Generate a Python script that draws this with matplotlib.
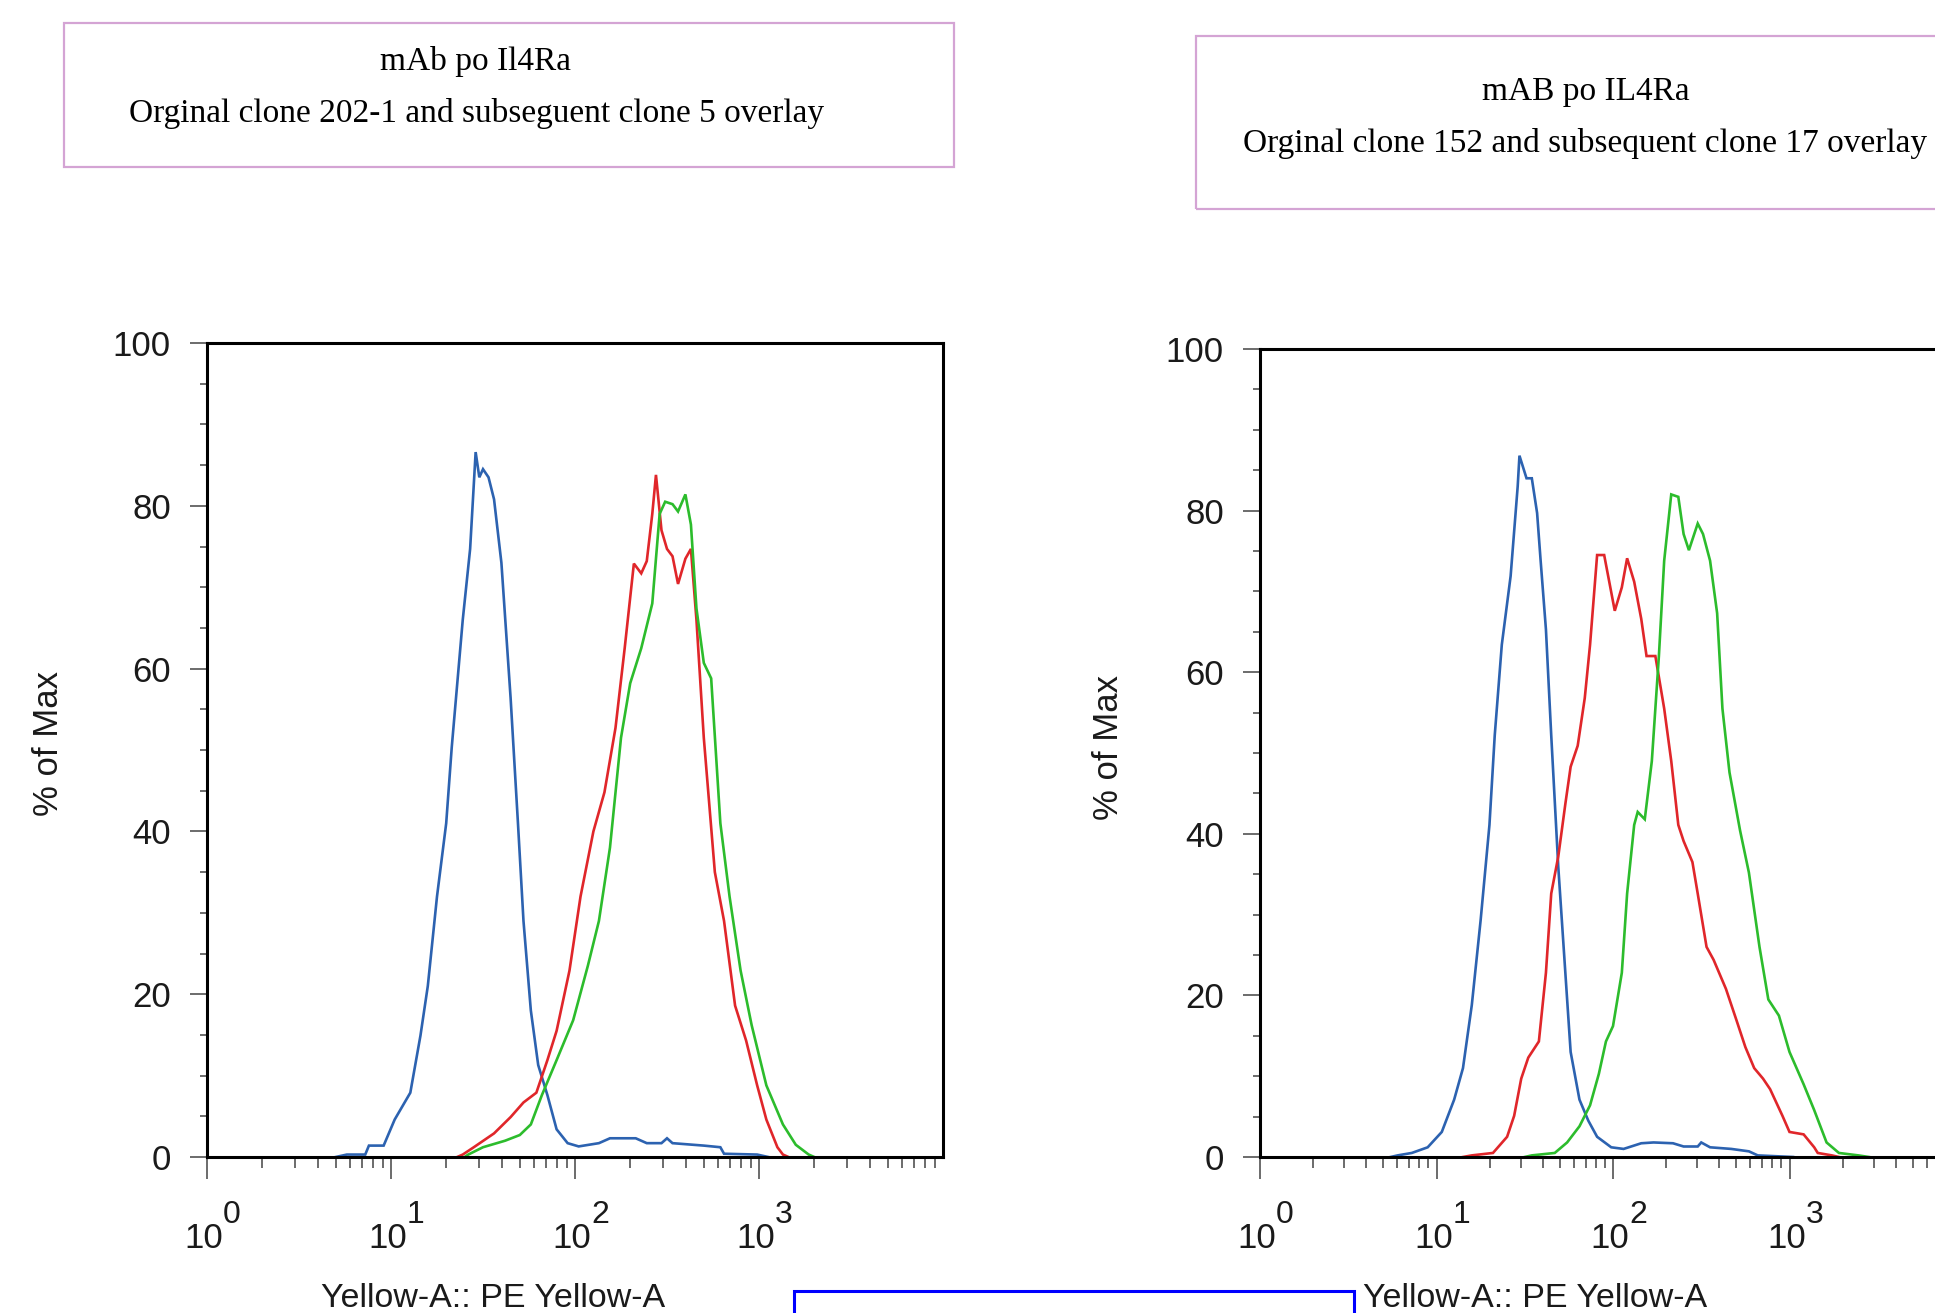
import numpy as np
import matplotlib
matplotlib.use("Agg")
import matplotlib.pyplot as plt
import matplotlib.transforms as mtransforms
from matplotlib.patches import Rectangle
from matplotlib.ticker import MultipleLocator, LogLocator, FixedLocator, NullFormatter

plt.rcParams["font.family"] = ["Liberation Sans", "DejaVu Sans"]

# --- data (x as log10 of intensity, y as % of max) ---
# left panel: original clone 202-1 vs subsequent clone 5
left_blue_log = [0.70, 0.76, 0.86, 0.88, 0.96, 1.02, 1.105, 1.16, 1.20, 1.25, 1.30, 1.33, 1.39, 1.43,
                 1.46, 1.48, 1.50, 1.53, 1.56, 1.60, 1.65, 1.69, 1.72, 1.76, 1.80, 1.85, 1.90, 1.96,
                 2.02, 2.13, 2.19, 2.33, 2.39, 2.47, 2.50, 2.53, 2.70, 2.79, 2.81, 2.99, 3.05]
left_blue_pct = [0, 0.3, 0.3, 1.4, 1.4, 4.6, 7.9, 14.9, 21, 32, 41, 50.3, 66, 74.7,
                 86.6, 83.5, 84.5, 83.5, 80.8, 73, 56.4, 41, 29, 18, 11.3, 7.6, 3.4, 1.7,
                 1.3, 1.7, 2.3, 2.3, 1.7, 1.7, 2.3, 1.7, 1.4, 1.2, 0.4, 0.3, 0]

left_red_log = [1.36, 1.39, 1.45, 1.56, 1.65, 1.72, 1.79, 1.85, 1.90, 1.97, 2.03, 2.10, 2.16, 2.22,
                2.27, 2.32, 2.36, 2.39, 2.42, 2.44, 2.47, 2.50, 2.53, 2.56, 2.60, 2.63, 2.66, 2.70,
                2.76, 2.81, 2.87, 2.93, 2.99, 3.04, 3.10, 3.13, 3.16]
left_red_pct = [0, 0.3, 1.2, 2.9, 4.9, 6.7, 7.9, 11.9, 15.5, 22.9, 32, 40, 44.8, 52.7,
                62.5, 72.9, 71.7, 73.2, 79, 83.8, 77, 74.7, 73.8, 70.4, 73.5, 74.7, 66, 51.5,
                35, 29, 18.6, 14.3, 8.8, 4.6, 1.2, 0.3, 0]

left_green_log = [1.40, 1.42, 1.50, 1.62, 1.70, 1.76, 1.82, 1.90, 1.99, 2.07, 2.13, 2.19, 2.25, 2.30,
                  2.36, 2.42, 2.46, 2.49, 2.53, 2.56, 2.60, 2.63, 2.66, 2.70, 2.74, 2.79, 2.84, 2.90,
                  2.96, 3.04, 3.13, 3.20, 3.27, 3.30]
left_green_pct = [0, 0.3, 1.2, 2.0, 2.7, 4.0, 7.6, 11.9, 16.8, 23.5, 29, 38, 51.5, 58.2,
                  62.5, 68, 79, 80.5, 80.2, 79.3, 81.4, 77.7, 67.4, 60.7, 58.8, 41, 32, 22.9,
                  16.2, 8.8, 4.0, 1.5, 0.3, 0]

# right panel: original clone 152 vs subsequent clone 17
right_blue_log = [0.74, 0.78, 0.86, 0.95, 1.03, 1.10, 1.15, 1.20, 1.25, 1.30, 1.33, 1.37, 1.42, 1.46,
                  1.47, 1.51, 1.54, 1.57, 1.59, 1.62, 1.65, 1.69, 1.73, 1.76, 1.81, 1.86, 1.91, 1.99,
                  2.06, 2.16, 2.23, 2.34, 2.40, 2.48, 2.50, 2.55, 2.67, 2.77, 2.82, 3.02]
right_blue_pct = [0, 0.2, 0.5, 1.2, 3.1, 7.1, 11, 18.8, 29.3, 41.1, 52.2, 63.4, 71.9, 83,
                  86.8, 84, 84, 79.7, 73.8, 65.3, 52.2, 35.9, 22.8, 13, 7.1, 4.5, 2.5, 1.2,
                  1.0, 1.7, 1.8, 1.7, 1.3, 1.3, 1.8, 1.2, 1.0, 0.7, 0.2, 0]

right_red_log = [1.15, 1.20, 1.32, 1.40, 1.44, 1.48, 1.52, 1.58, 1.62, 1.65, 1.69, 1.73, 1.76, 1.80,
                 1.84, 1.87, 1.91, 1.95, 2.01, 2.05, 2.08, 2.12, 2.16, 2.19, 2.24, 2.29, 2.33, 2.37,
                 2.40, 2.45, 2.48, 2.53, 2.57, 2.64, 2.70, 2.75, 2.80, 2.85, 2.89, 2.96, 3.00, 3.08,
                 3.14, 3.16, 3.24, 3.28]
right_red_pct = [0, 0.2, 0.5, 2.5, 5.1, 9.7, 12.3, 14.3, 22.8, 32.6, 37.2, 43.7, 48.3, 50.9,
                 56.8, 63.4, 74.5, 74.5, 67.6, 70.5, 74.1, 71.2, 66.6, 62, 62, 55.5, 49, 41.1,
                 39.1, 36.5, 32.6, 26, 24.4, 20.8, 16.9, 13.6, 11, 9.7, 8.4, 5.1, 3.1, 2.8,
                 1.2, 0.5, 0.2, 0]

right_green_log = [1.50, 1.54, 1.67, 1.74, 1.81, 1.87, 1.92, 1.96, 2.00, 2.05, 2.08, 2.12, 2.14, 2.18,
                   2.22, 2.26, 2.29, 2.33, 2.37, 2.40, 2.43, 2.48, 2.51, 2.55, 2.59, 2.62, 2.66, 2.72,
                   2.77, 2.83, 2.88, 2.94, 3.00, 3.08, 3.14, 3.21, 3.28, 3.39, 3.45]
right_green_pct = [0, 0.2, 0.5, 1.8, 3.8, 6.4, 10.3, 14.3, 16.2, 22.8, 32.6, 41.1, 42.7, 41.8,
                   49, 62, 73.8, 82, 81.7, 77.1, 75.1, 78.4, 77.1, 73.8, 67.3, 55.5, 47.6, 40.4,
                   35.2, 26, 19.5, 17.5, 13, 9, 5.8, 1.8, 0.5, 0.2, 0]

xtick_vals = [1, 10, 100, 1000]
xtick_exps = ["0", "1", "2", "3"]
titles_left = ["mAb po Il4Ra", "Orginal clone 202-1 and subseguent clone 5 overlay"]
titles_right = ["mAB po IL4Ra", "Orginal clone 152 and subsequent clone 17 overlay"]
xlabel = "Yellow-A:: PE Yellow-A"
ylabel = "% of Max"

BLUE, RED, GREEN = "#2c62b0", "#e0262a", "#2cbc2c"

W, H = 1935, 1313
fig = plt.figure(figsize=(W / 100, H / 100), dpi=100)


def fx(px):
    return px / W


def fy(py):
    return 1 - py / H


def panel(x0, x1, y0, y1, curves):
    ax = fig.add_axes([fx(x0), fy(y1), fx(x1 - x0), (y1 - y0) / H])
    for logs, vals, col in curves:
        ax.plot(10 ** np.array(logs), vals, color=col, lw=1.9, solid_joinstyle="miter")
    ax.set_xscale("log")
    ax.set_xlim(1, 1e4)
    ax.set_ylim(0, 100)
    ax.xaxis.set_major_locator(FixedLocator(xtick_vals))
    ax.xaxis.set_minor_locator(LogLocator(base=10, subs=np.arange(2, 10)))
    ax.xaxis.set_major_formatter(NullFormatter())
    ax.xaxis.set_minor_formatter(NullFormatter())
    ax.yaxis.set_major_locator(MultipleLocator(20))
    ax.yaxis.set_minor_locator(MultipleLocator(5))
    for s in ax.spines.values():
        s.set_linewidth(2.2)
    ax.tick_params(axis="x", which="major", length=16, width=1.1, color="#444", direction="out")
    ax.tick_params(axis="x", which="minor", length=8, width=1.1, color="#444", direction="out")
    ax.tick_params(axis="y", which="major", length=12, width=1.1, color="#444", direction="out",
                   pad=14, labelsize=25, labelcolor="#1a1a1a")
    ax.tick_params(axis="y", which="minor", length=5, width=1.1, color="#444", direction="out")
    # log decade labels drawn as "10" with a raised exponent
    trans = ax.get_xaxis_transform()
    for v, e in zip(xtick_vals, xtick_exps):
        t1 = mtransforms.offset_copy(trans, fig=fig, x=-3, y=-91, units="dots")
        ax.text(v, 0, "10", transform=t1, ha="center", va="baseline", fontsize=25,
                color="#1a1a1a", clip_on=False)
        t2 = mtransforms.offset_copy(trans, fig=fig, x=16, y=-66, units="dots")
        ax.text(v, 0, e, transform=t2, ha="left", va="baseline", fontsize=23,
                color="#1a1a1a", clip_on=False)
    return ax


ax1 = panel(207, 943, 343, 1157, [(left_blue_log, left_blue_pct, BLUE),
                                  (left_red_log, left_red_pct, RED),
                                  (left_green_log, left_green_pct, GREEN)])
ax2 = panel(1260, 1966, 349, 1157, [(right_blue_log, right_blue_pct, BLUE),
                                    (right_red_log, right_red_pct, RED),
                                    (right_green_log, right_green_pct, GREEN)])

# axis titles
fig.text(fx(493), fy(1307), xlabel, ha="center", va="baseline", fontsize=24.5, color="#1a1a1a")
fig.text(fx(1535), fy(1307), xlabel, ha="center", va="baseline", fontsize=24.5, color="#1a1a1a")
fig.text(fx(49), fy(744), ylabel, rotation=90, ha="center", va="center", fontsize=25, color="#1a1a1a")
fig.text(fx(1109), fy(747), ylabel, rotation=90, ha="center", va="center", fontsize=25, color="#1a1a1a")

# title boxes
box_col = "#d4a4d4"
fig.add_artist(Rectangle((fx(64), fy(167)), fx(954 - 64), (167 - 23) / H, transform=fig.transFigure,
                         fill=False, edgecolor=box_col, lw=1.6))
fig.add_artist(Rectangle((fx(1196), fy(209)), fx(1990 - 1196), (209 - 36) / H, transform=fig.transFigure,
                         fill=False, edgecolor=box_col, lw=1.6, clip_on=False))
serif = ["Liberation Serif", "DejaVu Serif"]
fig.text(fx(475), fy(70), titles_left[0], ha="center", va="baseline", fontsize=24, family=serif)
fig.text(fx(477), fy(122), titles_left[1], ha="center", va="baseline", fontsize=24, family=serif)
fig.text(fx(1586), fy(100), titles_right[0], ha="center", va="baseline", fontsize=24, family=serif)
fig.text(fx(1585), fy(152), titles_right[1], ha="center", va="baseline", fontsize=24, family=serif)

# blue frame at the bottom edge
fig.add_artist(Rectangle((fx(794), fy(1340)), fx(1354 - 794), (1340 - 1291) / H,
                         transform=fig.transFigure, fill=False, edgecolor="#0000ff", lw=2.2))

fig.savefig("out.png", dpi=100)
